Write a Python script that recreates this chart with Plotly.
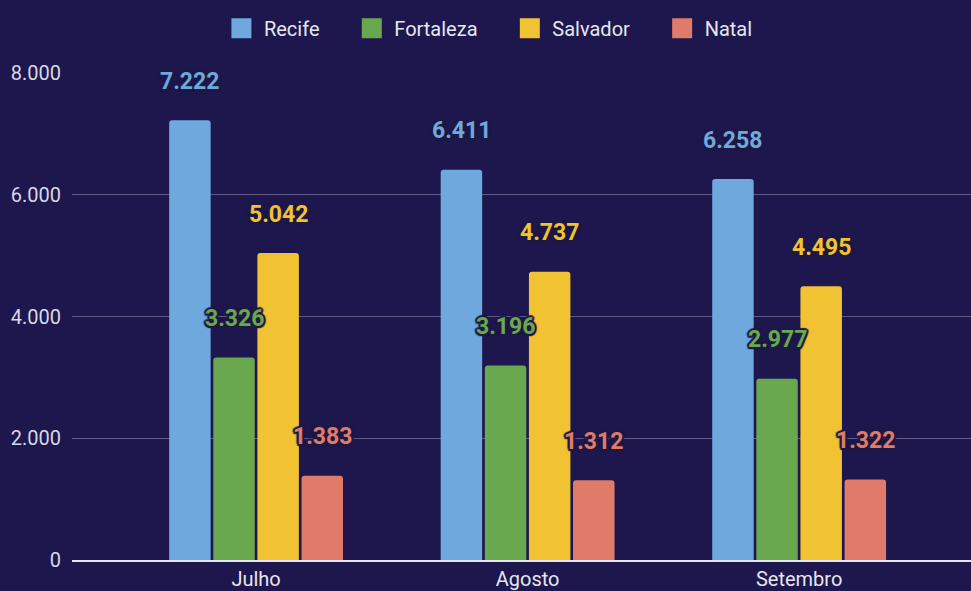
import plotly.graph_objects as go

categories = ["Julho", "Agosto", "Setembro"]
series_names = ["Recife", "Fortaleza", "Salvador", "Natal"]
recife = [7222, 6411, 6258]
fortaleza = [3326, 3196, 2977]
salvador = [5042, 4737, 4495]
natal = [1383, 1312, 1322]
y_ticks = [0, 2000, 4000, 6000, 8000]

values = [recife, fortaleza, salvador, natal]
colors = ["#6fa8dc", "#6aa84f", "#f1c232", "#e07b6a"]
BG = "#1d174e"
STROKE = "#1f1a44"

fig = go.Figure()
for name, vals, col in zip(series_names, values, colors):
    fig.add_trace(go.Bar(
        name=name, x=categories, y=vals, showlegend=False, legendgroup=name,
        marker=dict(color=col, line=dict(width=0), cornerradius=3),
    ))

# legend entries (larger square swatches)
for k, (name, col) in enumerate(zip(series_names, colors)):
    pad = "\u00a0" * 5 if k < len(series_names) - 1 else ""
    fig.add_trace(go.Scatter(
        x=[None], y=[None], mode="markers", name=name + pad, legendgroup=name,
        marker=dict(symbol="square", size=16, color=col, line=dict(color=col, width=4)),
        hoverinfo="skip",
    ))

# value labels above each bar
n = len(series_names)
bargap = 0.35
bargroupgap = 0.06
px_per_cat = 271.5
slot = (1 - bargap) * px_per_cat / n
shadow = ", ".join(f"{dx}px {dy}px 1px {STROKE}" for dx, dy in
                   [(2, 0), (-2, 0), (0, 2), (0, -2), (1.5, 1.5), (-1.5, -1.5), (1.5, -1.5), (-1.5, 1.5)])
for i, (vals, col) in enumerate(zip(values, colors)):
    for cat, v in zip(categories, vals):
        fig.add_annotation(
            x=cat, y=v, xref="x", yref="y",
            text=f"{v:,}".replace(",", "."),
            showarrow=False, yshift=39, xshift=(i - (n - 1) / 2) * slot,
            font=dict(family="Roboto", size=23, color=col, weight="bold", shadow=shadow),
        )

fig.update_layout(
    width=971, height=591,
    paper_bgcolor=BG, plot_bgcolor=BG,
    margin=dict(l=72, r=0, t=73, b=31),
    barmode="group", bargap=bargap, bargroupgap=bargroupgap,
    separators=",.",
    font=dict(family="Roboto", color="#e0e0ea"),
    legend=dict(orientation="h", xref="container", x=0.503, xanchor="center",
                yref="container", y=0.985, yanchor="top",
                font=dict(size=20, color="#e6e6ee"), itemwidth=35,
                itemsizing="trace",
                bgcolor="rgba(0,0,0,0)"),
    xaxis=dict(range=[-0.678, 2.633], showgrid=False, showline=True,
               linecolor="#e6e6ee", linewidth=2, ticks="",
               tickfont=dict(size=20, color="#e6e6ee")),
    yaxis=dict(range=[0, 8000], tickvals=y_ticks, tickformat=",d",
               gridcolor="#5f5a88", gridwidth=1, zeroline=False,
               ticklabelstandoff=10,
               tickfont=dict(size=20, color="#d8d8e4")),
)

fig.write_html("out.html", config={"displayModeBar": False},
               post_script="document.body.style.margin='0';document.body.style.background='%s';" % BG)
